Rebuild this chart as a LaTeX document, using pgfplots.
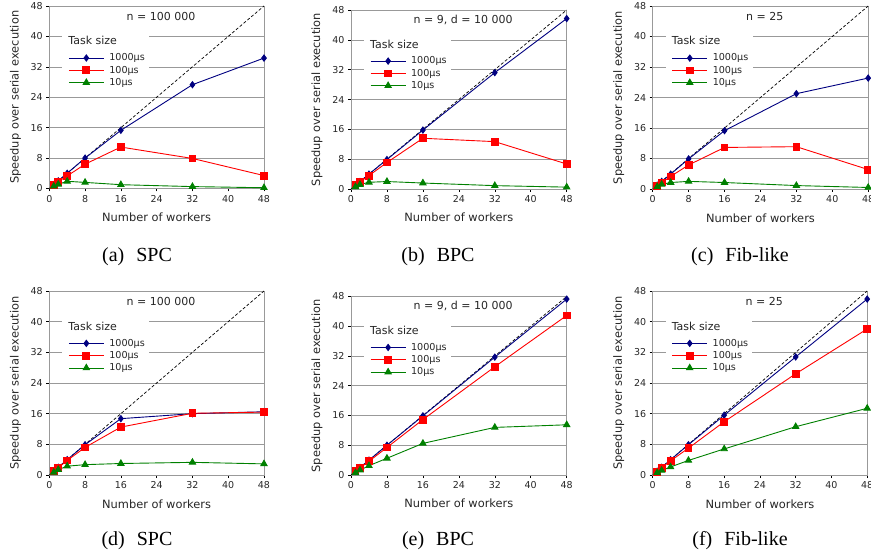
\documentclass[border=0pt]{standalone}
\usepackage{fontspec}
\setmainfont{DejaVu Sans}
\newfontfamily\capfont{Liberation Serif}
\usepackage{pgfplots}
\pgfplotsset{compat=1.18}

\definecolor{cblue}{RGB}{0,0,128}
\definecolor{cred}{RGB}{255,0,0}
\definecolor{cgreen}{RGB}{0,128,0}

\pgfplotsset{
  panel/.style={
    scale only axis, anchor=south west, clip=false,
    xmin=0, xmax=48, ymin=0, ymax=48,
    xtick={0,8,...,48}, ytick={0,8,...,48},
    ymajorgrids, grid style={gray!80, line width=0.6pt},
    axis line style={gray!80, line width=0.6pt},
    tick align=outside, xtick pos=bottom, ytick pos=left,
    major tick length=3pt, major tick style={black, line width=0.6pt},
    /pgf/number format/assume math mode=true,
    tick label style={font=\fontsize{9.5}{11}\selectfont, text=black!85},
    xlabel={Number of workers}, ylabel={Speedup over serial execution},
    label style={font=\fontsize{11.4}{13}\selectfont, text=black!85},
    xlabel style={at={(axis description cs:0.5,-0.158)}, anchor=center},
    ylabel style={at={(axis description cs:-0.158,0.5)}, anchor=center},
    legend style={at={(rel axis cs:0.088,0.745)}, anchor=north west,
      draw=none, fill=none, inner sep=0pt, row sep=1.8pt,
      font=\fontsize{9.6}{10}\selectfont, text=black!85,
      nodes={inner sep=1pt, text height=7pt, text depth=1.5pt},
      /tikz/every odd column/.append style={column sep=4pt}},
    legend cell align=left,
    legend image code/.code={\draw[mark repeat=2,mark phase=2,#1]
      plot coordinates {(0pt,0pt) (17.5pt,0pt) (35pt,0pt)};},
  },
  sbig/.style={cblue, line width=0.9pt, mark=diamond*, mark size=3.1pt, mark options={solid}},
  smid/.style={cred, line width=0.9pt, mark=square*, mark size=3.4pt, mark options={solid}},
  ssml/.style={cgreen, line width=0.9pt, mark=triangle*, mark size=3.6pt, mark options={solid}},
}

\newcommand{\decor}[1]{%
  \fill[white] (rel axis cs:0.06,0.55) rectangle (rel axis cs:0.465,0.875);
  \node[font=\fontsize{11}{13}\selectfont, text=black!85] at (rel axis cs:0.52,0.945) {#1};
  \node[anchor=west, font=\fontsize{11}{13}\selectfont, text=black!85, inner sep=0pt] at (rel axis cs:0.088,0.81) {Task size};
  \addplot[black, dash pattern=on 3pt off 2pt, line width=0.7pt, forget plot] coordinates {(0,0) (48,48)};
}

\begin{document}
\begin{tikzpicture}
\path[use as bounding box] (0,0) rectangle (871pt,555pt);

% (a) SPC
\begin{axis}[panel, at={(49.3pt,366.5pt)}, width=214.7pt, height=182.5pt]
\decor{n = 100 000}
\addplot[sbig] coordinates {(1,1) (2,2) (4,4) (8,8) (16,15.3) (32,27.3) (48,34.3)};
\addplot[smid] coordinates {(1,0.9) (2,1.8) (4,3.3) (8,6.4) (16,10.9) (32,7.9) (48,3.4)};
\addplot[ssml] coordinates {(1,0.6) (2,1.1) (4,1.9) (8,1.6) (16,1.0) (32,0.5) (48,0.2)};
\legend{1000µs,100µs,10µs}
\end{axis}

% (b) BPC
\begin{axis}[panel, at={(351pt,366pt)}, width=215.7pt, height=179pt]
\decor{n = 9, d = 10 000}
\addplot[sbig] coordinates {(1,1) (2,2) (4,4) (8,7.9) (16,15.8) (32,31.2) (48,45.7)};
\addplot[smid] coordinates {(1,1) (2,1.9) (4,3.6) (8,7.1) (16,13.6) (32,12.7) (48,6.7)};
\addplot[ssml] coordinates {(1,0.6) (2,1.2) (4,1.8) (8,2.0) (16,1.6) (32,0.9) (48,0.5)};
\legend{1000µs,100µs,10µs}
\end{axis}

% (c) Fib-like
\begin{axis}[panel, at={(652.7pt,366pt)}, width=215.5pt, height=183pt]
\decor{n = 25}
\addplot[sbig] coordinates {(1,1) (2,2) (4,3.9) (8,7.9) (16,15.3) (32,25.0) (48,29.1)};
\addplot[smid] coordinates {(1,0.9) (2,1.7) (4,3.3) (8,6.3) (16,10.9) (32,11.1) (48,5.1)};
\addplot[ssml] coordinates {(1,0.6) (2,1.2) (4,1.7) (8,2.0) (16,1.7) (32,0.9) (48,0.4)};
\legend{1000µs,100µs,10µs}
\end{axis}

% (d) SPC
\begin{axis}[panel, at={(49.3pt,80pt)}, width=214.7pt, height=184pt]
\decor{n = 100 000}
\addplot[sbig] coordinates {(1,1) (2,2) (4,4) (8,7.9) (16,14.7) (32,16.0) (48,16.5)};
\addplot[smid] coordinates {(1,1) (2,1.9) (4,3.8) (8,7.2) (16,12.5) (32,16.1) (48,16.4)};
\addplot[ssml] coordinates {(1,0.7) (2,1.4) (4,2.3) (8,2.7) (16,3.0) (32,3.3) (48,2.9)};
\legend{1000µs,100µs,10µs}
\end{axis}

% (e) BPC
\begin{axis}[panel, at={(351pt,80pt)}, width=215.7pt, height=178.5pt]
\decor{n = 9, d = 10 000}
\addplot[sbig] coordinates {(1,1) (2,2) (4,4) (8,8) (16,15.9) (32,31.7) (48,47.3)};
\addplot[smid] coordinates {(1,1) (2,1.9) (4,3.7) (8,7.4) (16,14.9) (32,29.1) (48,42.9)};
\addplot[ssml] coordinates {(1,0.6) (2,1.3) (4,2.5) (8,4.5) (16,8.5) (32,12.8) (48,13.5)};
\legend{1000µs,100µs,10µs}
\end{axis}

% (f) Fib-like
\begin{axis}[panel, at={(652.7pt,80pt)}, width=214.5pt, height=184pt]
\decor{n = 25}
\addplot[sbig] coordinates {(1,1) (2,2) (4,4) (8,7.9) (16,15.6) (32,30.8) (48,45.9)};
\addplot[smid] coordinates {(1,0.9) (2,1.9) (4,3.7) (8,7.0) (16,13.9) (32,26.4) (48,38.1)};
\addplot[ssml] coordinates {(1,0.6) (2,1.2) (4,2.1) (8,3.8) (16,6.8) (32,12.6) (48,17.4)};
\legend{1000µs,100µs,10µs}
\end{axis}

% captions
\begin{scope}[every node/.style={anchor=base, font=\capfont\fontsize{20}{24}\selectfont}]
\node at (137pt,293pt) {(a)\hspace{0.6em}SPC};
\node at (438pt,293pt) {(b)\hspace{0.6em}BPC};
\node at (740pt,293pt) {(c)\hspace{0.6em}Fib-like};
\node at (137pt,10pt) {(d)\hspace{0.6em}SPC};
\node at (438pt,10pt) {(e)\hspace{0.6em}BPC};
\node at (740pt,10pt) {(f)\hspace{0.6em}Fib-like};
\end{scope}
\end{tikzpicture}
\end{document}
